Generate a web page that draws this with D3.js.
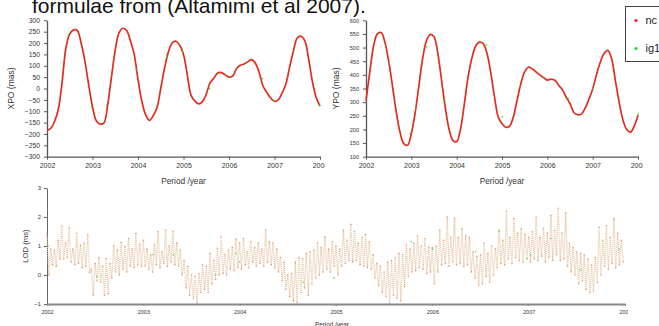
<!DOCTYPE html>
<html>
<head>
<meta charset="utf-8">
<script src="https://cdn.jsdelivr.net/npm/d3@7"></script>
<style>
  html, body { margin: 0; padding: 0; background: #fff; }
  svg { display: block; font-family: "Liberation Sans", Arial, sans-serif; }
</style>
</head>
<body>
<svg id="chart" width="659" height="326"></svg>
<script>
// ---- data ----
const yearTicks = [2002, 2003, 2004, 2005, 2006, 2007, 2008];
const yearLabels = ["2002", "2003", "2004", "2005", "2006", "2007", "2008"];

const xpoTicks = [-300, -250, -200, -150, -100, -50, 0, 50, 100, 150, 200, 250, 300];
const ypoTicks = [100, 150, 200, 250, 300, 350, 400, 450, 500, 550, 600];
const lodTicks = [-1, 0, 1, 2, 3];

// XPO (mas), monthly samples 2002.0 .. 2008.0
const xpoNc = [
  -185, -175, -145, -90, 30, 180, 240, 258, 255, 200, 120, 15,
  -80, -142, -156, -152, -72, 50, 170, 245, 265, 255, 210, 150,
  40, -55, -115, -140, -120, -85, 0, 90, 160, 200, 208, 190,
  150, 60, -30, -55, -68, -58, -25, 25, 45, 68, 70, 60,
  50, 55, 88, 102, 108, 118, 127, 110, 68, 10, -18, -42,
  -56, -50, -20, 20, 95, 165, 222, 230, 210, 130, 30, -40,
  -78
];
// YPO (mas), monthly samples 2002.0 .. 2008.0
const ypoNc = [
  305, 410, 505, 550, 555, 520, 450, 360, 265, 190, 148, 142,
  185, 260, 360, 460, 525, 548, 540, 480, 380, 280, 200, 160,
  155, 200, 290, 390, 460, 505, 520, 515, 480, 410, 320, 246,
  221, 208, 212, 246, 307, 368, 411, 428, 422, 411, 400, 390,
  381, 384, 380, 362, 345, 318, 295, 262, 254, 256, 278, 310,
  348, 400, 445, 478, 490, 460, 380, 300, 235, 200, 190, 212,
  252
];
// ig1 points that show through the red curve [year, value]
const xpoIg1 = [[2002.47, 235], [2002.98, -81], [2003.31, -74], [2003.96, 81], [2004.63, 140],
  [2004.98, 162], [2005.57, 0], [2006.02, 51], [2006.73, 44], [2006.97, -51], [2007.99, -74]];
const ypoIg1 = [[2002.51, 442], [2002.97, 185], [2003.10, 276], [2003.34, 503], [2003.74, 307],
  [2004.66, 509], [2005.0, 246], [2005.39, 356], [2006.46, 313], [2007.0, 350], [2008.0, 256]];

// LOD (ms): fortnightly highs and lows, 26 per year
const lodPeaks = [
  1.38, 0.9, 0.85, 1.2, 1.7, 1.1, 1.63, 0.9, 1.44, 1.03, 1.1, 1.38, 0.2, 0.4, 0.6, 0.3, 0.57, 0.4, 1.03, 0.86, 1.13, 0.98, 1.26, 0.9, 1.44, 1.06,
  1.2, 0.9, 0.7, 1.05, 1.5, 0.8, 1.55, 1.0, 1.5, 1.1, 0.85, 0.5, 0.3, 0.0, -0.05, 0.05, 0.35, 0.3, 0.75, 0.5, 0.92, 1.32, 0.7, 0.86, 0.95, 1.25,
  1.1, 1.26, 0.8, 1.15, 0.95, 1.1, 0.9, 1.55, 1.15, 1.1, 0.9, 0.6, 0.45, 0.0, 0.05, 0.45, 0.6, 0.57, 0.75, 0.8, 0.85, 1.1, 0.95, 1.32, 0.9, 1.15,
  1.0, 0.9, 1.55, 1.2, 1.75, 1.5, 1.1, 1.3, 1.4, 1.15, 0.7, 0.4, 0.3, 0.1, 0.45, 0.5, 0.6, 0.75, 0.7, 1.05, 0.9, 1.1, 1.35, 1.0, 1.25, 0.95,
  0.95, 1.0, 1.55, 1.2, 2.0, 1.3, 1.95, 1.3, 1.6, 1.35, 1.3, 0.8, 0.65, 0.7, 1.1, 0.75, 1.0, 0.9, 1.55, 1.2, 2.2, 1.3, 1.95, 1.45, 1.6, 1.4,
  1.3, 1.5, 2.0, 1.3, 1.6, 1.45, 2.05, 1.55, 2.3, 1.45, 2.15, 1.1, 0.95, 0.8, 0.75, 0.7, 0.55, 0.35, 0.6, 1.65, 1.2, 1.7, 1.3, 1.95, 1.45, 1.2
];
const lodTroughs = [
  0.0, 0.35, 0.3, 0.55, 0.55, 0.6, 0.45, 0.35, 0.4, 0.25, 0.3, 0.1, -0.7, -0.2, -0.25, -0.7, -0.65, -0.1, 0.1, 0.0, 0.2, 0.1, 0.3, 0.25, 0.35, 0.3,
  0.3, 0.2, 0.1, 0.35, 0.25, 0.4, 0.3, 0.45, 0.35, 0.3, 0.0, -0.45, -0.7, -0.8, -0.95, -0.6, -0.5, -0.6, -0.3, -0.15, 0.0, 0.05, 0.0, 0.2, 0.15, 0.25,
  0.2, 0.35, 0.25, 0.45, 0.3, 0.4, 0.3, 0.45, 0.35, 0.25, 0.1, -0.2, -0.5, -0.75, -0.9, -0.95, -0.6, -0.45, -0.7, -0.3, -0.1, 0.0, 0.1, 0.2, 0.1, 0.3,
  0.0, 0.3, 0.4, 0.5, 0.45, 0.5, 0.35, 0.3, 0.25, 0.2, -0.1, -0.35, -0.6, -0.75, -1.0, -0.7, -0.8, -0.9, -0.4, -0.05, 0.1, 0.15, 0.25, 0.2, 0.05, 0.1,
  -0.3, 0.1, 0.35, 0.4, 0.3, 0.45, 0.35, 0.4, 0.3, 0.35, 0.1, -0.1, -0.35, -0.3, -0.05, -0.25, 0.0, 0.25, 0.4, 0.35, 0.55, 0.4, 0.6, 0.5, 0.45, 0.55,
  0.45, 0.55, 0.5, 0.65, 0.45, 0.6, 0.5, 0.7, 0.5, 0.55, 0.3, 0.1, 0.0, -0.3, -0.2, -0.5, -0.6, -0.55, -0.25, 0.0, 0.3, 0.2, 0.4, 0.25, 0.35, 0.45
];
const lodIg1 = [[2002.01, 1.0], [2002.52, -0.05], [2003.1, 0.7], [2003.31, 0.7], [2003.75, 0.0], [2003.96, 0.75],
  [2004.0, 0.45], [2004.66, -0.25], [2004.98, -0.1], [2005.78, 1.15], [2006.0, 0.9], [2006.45, 0.8],
  [2006.69, 1.5], [2006.98, 0.57], [2007.02, 0.69], [2007.23, 1.26], [2007.54, 0.17], [2007.94, 0.9]];

const legendNames = ["nc", "ig1"];

// ---- drawing ----
const RED = "#e42c1c", GREEN = "#22dd22";
const svg = d3.select("#chart");
const defs = svg.append("defs");

function clip(id, w) {
  defs.append("clipPath").attr("id", id)
    .append("rect").attr("x", 0).attr("y", 0).attr("width", w).attr("height", 326);
  return "url(#" + id + ")";
}

function styleAxis(g, size, domainColor, domainWidth) {
  g.attr("font-family", null).attr("font-size", null);
  g.select(".domain").attr("stroke", domainColor).attr("stroke-width", domainWidth);
  g.selectAll(".tick line").attr("stroke", domainColor);
  g.selectAll(".tick text").attr("fill", "#333").attr("font-size", size);
}

function monthly(arr) {
  return arr.map((v, i) => ({ t: 2002 + i / 12, v: v }));
}

function topPanel(o) {
  const g = svg.append("g").attr("clip-path", clip(o.id, o.clipW));
  const x = d3.scaleLinear().domain([2002, 2008]).range(o.xRange);
  const y = d3.scaleLinear().domain(o.yDomain).range([156.7, 20.3]);

  g.append("g").attr("transform", "translate(0,156.7)")
    .call(d3.axisBottom(x).tickValues(yearTicks).tickFormat((d, i) => yearLabels[i])
      .tickSize(3).tickSizeOuter(0).tickPadding(3))
    .call(a => styleAxis(a, 7, "#555", 1.3));

  g.append("g").attr("transform", `translate(${o.xRange[0]},0)`)
    .call(d3.axisLeft(y).tickValues(o.yTicks).tickFormat(d3.format("d"))
      .tickSize(3).tickSizeOuter(0).tickPadding(4))
    .call(a => styleAxis(a, o.yFont, "#555", 1.3));

  g.append("text")
    .attr("x", (o.xRange[0] + o.xRange[1]) / 2).attr("y", 184)
    .attr("text-anchor", "middle").attr("font-size", 8.3).attr("fill", "#333")
    .text("Period /year");
  g.append("text")
    .attr("transform", `translate(${o.labelX},${y((o.yDomain[0] + o.yDomain[1]) / 2)}) rotate(-90)`)
    .attr("text-anchor", "middle").attr("font-size", 8.5).attr("fill", "#333")
    .text(o.yLabel);

  const line = d3.line().x(d => x(d.t)).y(d => y(d.v)).curve(d3.curveCatmullRom);
  g.append("path").datum(monthly(o.nc))
    .attr("d", line).attr("fill", "none")
    .attr("stroke", RED).attr("stroke-width", 1.7).attr("stroke-linejoin", "round");

  // green ig1 dots that peek out of the red curve
  g.selectAll("circle.ig1").data(o.ig1).join("circle")
    .attr("class", "ig1")
    .attr("cx", d => x(d[0])).attr("cy", d => y(d[1])).attr("r", 0.8)
    .attr("fill", GREEN);
}

svg.append("text")
  .attr("x", 32).attr("y", 12.5).attr("font-size", 21).attr("fill", "#111")
  .text("formulae from (Altamimi et al 2007).");

topPanel({
  id: "clipTL", clipW: 325, xRange: [47, 320], yDomain: [-300, 300], yTicks: xpoTicks,
  yFont: 6.8, labelX: 14, yLabel: "XPO (mas)", nc: xpoNc, ig1: xpoIg1
});
topPanel({
  id: "clipTR", clipW: 643, xRange: [366, 638], yDomain: [100, 600], yTicks: ypoTicks,
  yFont: 5.6, labelX: 339, yLabel: "YPO (mas)", nc: ypoNc, ig1: ypoIg1
});

// ---- LOD panel ----
(function () {
  const g = svg.append("g").attr("clip-path", clip("clipB", 628));
  const x = d3.scaleLinear().domain([2002, 2008]).range([47, 625]);
  const y = d3.scaleLinear().domain([-1, 3]).range([304, 188]);

  const seq = [];
  lodPeaks.forEach((p, i) => {
    seq.push({ t: 2002 + i / 26, v: p });
    seq.push({ t: 2002 + (i + 0.5) / 26, v: lodTroughs[i] });
  });

  g.append("g").attr("transform", "translate(47,0)")
    .call(d3.axisLeft(y).tickValues(lodTicks).tickFormat(d3.format("d"))
      .tickSize(3).tickSizeOuter(0).tickPadding(3))
    .call(a => styleAxis(a, 6, "#666", 1));

  g.append("path").datum(seq)
    .attr("d", d3.line().x(d => x(d.t)).y(d => y(d.v)))
    .attr("fill", "none").attr("stroke", "#e6c4a2").attr("stroke-width", 1.3)
    .attr("stroke-dasharray", "1.1,0.9").attr("opacity", 0.9);

  g.selectAll("circle.nc").data(seq).join("circle")
    .attr("class", "nc")
    .attr("cx", d => x(d.t)).attr("cy", d => y(d.v)).attr("r", 0.75)
    .attr("fill", "#d8643c").attr("opacity", 0.65);

  g.selectAll("circle.ig1").data(lodIg1).join("circle")
    .attr("class", "ig1")
    .attr("cx", d => x(d[0])).attr("cy", d => y(d[1])).attr("r", 0.8)
    .attr("fill", GREEN).attr("opacity", 0.8);

  g.append("g").attr("transform", "translate(0,304)")
    .call(d3.axisBottom(x).tickValues(yearTicks).tickFormat((d, i) => yearLabels[i])
      .tickSize(2).tickSizeOuter(0).tickPadding(4))
    .call(a => styleAxis(a, 5.5, "#888", 2));

  g.append("text")
    .attr("x", 332).attr("y", 326.5)
    .attr("text-anchor", "middle").attr("font-size", 6.3).attr("fill", "#333")
    .text("Period /year");
  g.append("text")
    .attr("transform", `translate(28,${y(1)}) rotate(-90)`)
    .attr("text-anchor", "middle").attr("font-size", 7.7).attr("fill", "#333")
    .text("LOD (ms)");
})();

// ---- legend ----
const leg = svg.append("g");
leg.append("rect").attr("x", 625.5).attr("y", 6.5).attr("width", 60).attr("height", 55)
  .attr("fill", "#fff").attr("stroke", "#444").attr("stroke-width", 1);
leg.selectAll("circle").data(legendNames).join("circle")
  .attr("cx", 636).attr("cy", (d, i) => 20.5 + i * 28).attr("r", 1.6)
  .attr("fill", (d, i) => i === 0 ? "#ff1a1a" : GREEN);
leg.selectAll("text").data(legendNames).join("text")
  .attr("x", 645.5).attr("y", (d, i) => 24 + i * 28)
  .attr("font-size", 11).attr("fill", "#222")
  .text(d => d);
</script>
</body>
</html>
